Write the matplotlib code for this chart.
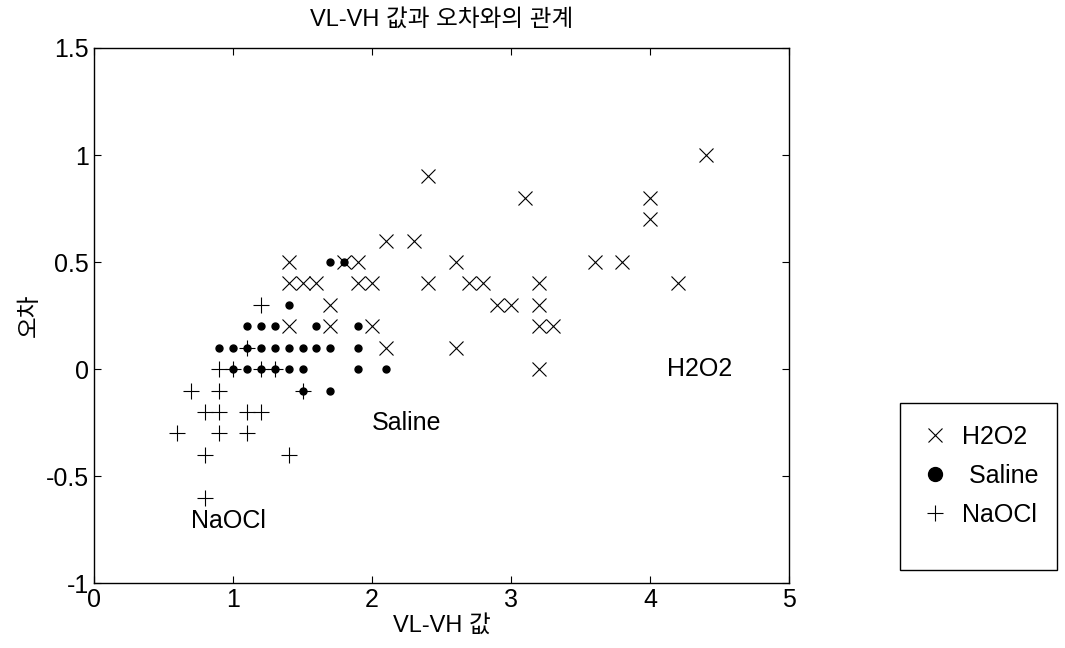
import matplotlib.pyplot as plt
from matplotlib.patches import Rectangle

plt.rcParams['font.family'] = ['Liberation Sans', 'Noto Sans CJK KR', 'DejaVu Sans']

# H2O2 points
h2o2_x = [1.4, 1.8, 1.9, 1.4, 1.5, 1.6, 1.9, 2.0, 1.7, 1.4, 1.7, 2.0, 2.1, 2.1, 2.3,
          2.4, 2.4, 2.6, 2.6, 2.7, 2.8, 2.9, 3.0, 3.1, 3.2, 3.2, 3.2, 3.3, 3.2, 3.6,
          3.8, 4.0, 4.0, 4.2, 4.4]
h2o2_y = [0.5, 0.5, 0.5, 0.4, 0.4, 0.4, 0.4, 0.4, 0.3, 0.2, 0.2, 0.2, 0.1, 0.6, 0.6,
          0.9, 0.4, 0.5, 0.1, 0.4, 0.4, 0.3, 0.3, 0.8, 0.4, 0.3, 0.2, 0.2, 0.0, 0.5,
          0.5, 0.8, 0.7, 0.4, 1.0]

# Saline points
saline_x = [1.7, 1.8, 1.4, 1.1, 1.2, 1.3, 1.6, 1.9,
            0.9, 1.0, 1.1, 1.2, 1.3, 1.4, 1.5, 1.6, 1.7, 1.9,
            1.0, 1.1, 1.2, 1.3, 1.4, 1.5, 1.9, 2.1,
            1.5, 1.7]
saline_y = [0.5, 0.5, 0.3, 0.2, 0.2, 0.2, 0.2, 0.2,
            0.1, 0.1, 0.1, 0.1, 0.1, 0.1, 0.1, 0.1, 0.1, 0.1,
            0.0, 0.0, 0.0, 0.0, 0.0, 0.0, 0.0, 0.0,
            -0.1, -0.1]

# NaOCl points
naocl_x = [1.2, 1.1, 0.9, 1.0, 1.2, 1.3, 0.7, 0.9, 1.5, 0.8, 0.9, 1.1, 1.2,
           0.6, 0.9, 1.1, 0.8, 1.4, 0.8]
naocl_y = [0.3, 0.1, 0.0, 0.0, 0.0, 0.0, -0.1, -0.1, -0.1, -0.2, -0.2, -0.2, -0.2,
           -0.3, -0.3, -0.3, -0.4, -0.4, -0.6]

x_ticks = [0, 1, 2, 3, 4, 5]
y_ticks = [-1, -0.5, 0, 0.5, 1, 1.5]
y_tick_labels = ['-1', '-0.5', '0', '0.5', '1', '1.5']


def main():
    fig = plt.figure(figsize=(10.65, 6.48), dpi=100)
    ax = fig.add_axes([0.0883, 0.100, 0.6527, 0.826])

    ax.plot(h2o2_x, h2o2_y, 'x', color='black', markersize=10, markeredgewidth=0.8,
            label='H2O2')
    ax.plot(saline_x, saline_y, 'o', color='black', markersize=5, label=' Saline')
    ax.plot(naocl_x, naocl_y, '+', color='black', markersize=11, markeredgewidth=0.8,
            label='NaOCl')

    # labels inside the plot
    ax.text(2.0, -0.25, 'Saline', fontsize=18, va='center', ha='left')
    ax.text(4.12, 0.0, 'H2O2', fontsize=18, va='center', ha='left')
    ax.text(0.7, -0.71, 'NaOCl', fontsize=18, va='center', ha='left')

    ax.set_xlim(0, 5)
    ax.set_ylim(-1, 1.5)
    ax.set_xticks(x_ticks)
    ax.set_yticks(y_ticks)
    ax.set_yticklabels(y_tick_labels)
    ax.tick_params(direction='in', top=True, right=True, labelsize=18, length=5)
    for s in ax.spines.values():
        s.set_linewidth(1.0)

    ax.set_title('VL-VH 값과 오차와의 관계', fontsize=17, pad=16)
    ax.set_xlabel('VL-VH 값', fontsize=17, labelpad=2)
    ax.set_ylabel('오차', fontsize=17, labelpad=4)

    # legend entries without frame, the box is drawn separately (taller, like matlab)
    leg = ax.legend(loc='upper left', bbox_to_anchor=(1.16, 0.336), fontsize=18,
                    frameon=False, handlelength=1.1, handletextpad=0.5,
                    borderpad=0.85, borderaxespad=0, labelspacing=0.6)
    leg.legend_handles[1].set_markersize(10)
    fig.patches.append(Rectangle((0.845, 0.1204), 0.1474, 0.2577, transform=fig.transFigure,
                                 fill=False, edgecolor='black', linewidth=1.0))

    fig.savefig('out.png', dpi=100)


if __name__ == '__main__':
    main()
